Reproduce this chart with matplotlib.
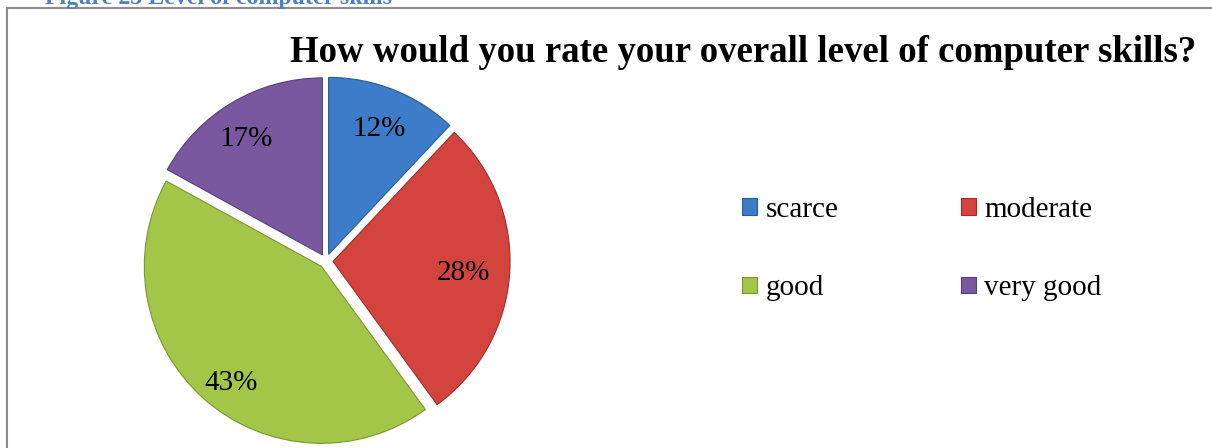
import numpy as np
import matplotlib
matplotlib.use("Agg")
import matplotlib.pyplot as plt
from matplotlib.patches import Rectangle

categories = ["scarce", "moderate", "good", "very good"]
shares = [12, 28, 43, 17]
colors = ["#3D7CC9", "#D4443F", "#A4C648", "#7A58A0"]
edge_colors = ["#2A5C9A", "#9E2E2A", "#7A9630", "#573E7A"]
title = "How would you rate your overall level of computer skills?"
caption = "Figure 23 Level of computer skills"

plt.rcParams["font.family"] = ["Liberation Serif", "DejaVu Serif"]

W, H = 1212, 448
fig = plt.figure(figsize=(W / 100, H / 100), dpi=100)

# chart frame (continues past the right and bottom edges)
fig.patches.append(Rectangle((6.5 / W, -0.05), 1.2, 1 - 8.5 / H + 0.05,
                             transform=fig.transFigure, fill=False,
                             edgecolor="#8C8C8C", linewidth=1.5))

# caption above the frame, partly cut off
fig.text(45 / W, 1 - 4 / H, caption, color="#4F81BD", fontsize=17.2,
         fontweight="bold", ha="left", va="baseline")

# pie axes: centre (326, 261) px, radius 177 px
cx, cy, R = 326, 261, 177
side = 2 * R * 1.2
ax = fig.add_axes([(cx - side / 2) / W, (H - cy - side / 2) / H, side / W, side / H])

explode = [0.04] * len(shares)
wedges, _ = ax.pie(shares, colors=colors, startangle=90, counterclock=False,
                   explode=explode, radius=1.0,
                   wedgeprops=dict(linewidth=0.8))
for w, ec in zip(wedges, edge_colors):
    w.set_edgecolor(ec)
ax.set_xlim(-1.2, 1.2)
ax.set_ylim(-1.2, 1.2)
ax.set_aspect("equal")
ax.axis("off")

label_dist = [0.78, 0.74, 0.82, 0.80]
label_shift = [0, 0, 3, 2]  # small angular nudges in degrees
for w, s, d, ex, sh in zip(wedges, shares, label_dist, explode, label_shift):
    mid = np.deg2rad((w.theta1 + w.theta2) / 2 + sh)
    r = d + ex
    ax.text(r * np.cos(mid), r * np.sin(mid), f"{s}%", ha="center",
            va="center_baseline", fontsize=21, color="black")

fig.text(743 / W, 1 - 53 / H, title, fontsize=26.5, fontweight="bold",
         ha="center", va="center")

# legend filled row by row: scarce, moderate / good, very good
order = [0, 2, 1, 3]
leg = fig.legend([wedges[i] for i in order], [categories[i] for i in order],
                 ncol=2, loc="center left",
                 bbox_to_anchor=(716 / W, 1 - 249 / H), frameon=False,
                 fontsize=21, handlelength=0.5, handleheight=0.5,
                 handletextpad=0.3, columnspacing=4.2, labelspacing=1.8)

fig.savefig("out.png", dpi=100)
